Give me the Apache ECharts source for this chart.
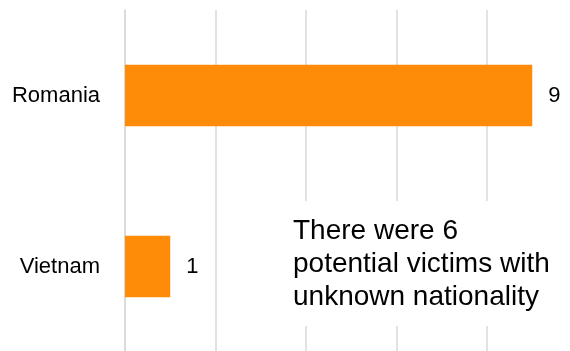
<!DOCTYPE html>
<html>
<head>
<meta charset="utf-8">
<script src="https://cdn.jsdelivr.net/npm/echarts@6/dist/echarts.min.js"></script>
<style>
  html, body { margin: 0; padding: 0; background: #fff; }
  #chart { width: 570px; height: 351px; }
</style>
</head>
<body>
<div id="chart"></div>
<script>
// Potential victims by nationality
const countries = ['Romania', 'Vietnam'];
const victims = [9, 1];
const xTicks = [0, 2, 4, 6, 8, 10];
const noteLines = ['There were 6', 'potential victims with', 'unknown nationality'];

const chart = echarts.init(document.getElementById('chart'), null, { renderer: 'canvas' });

const font = '"Liberation Sans", Arial, sans-serif';

chart.setOption({
  animation: false,
  backgroundColor: '#ffffff',
  grid: {
    left: 125, width: 452.5, top: 10, height: 342,
    containLabel: false, outerBoundsMode: 'none'
  },
  xAxis: {
    type: 'value',
    min: xTicks[0],
    max: xTicks[xTicks.length - 1],
    interval: 2,
    axisLine: { show: false },
    axisTick: { show: false },
    axisLabel: { show: false },
    splitLine: { show: true, lineStyle: { color: '#d9d9d9', width: 1.5 } }
  },
  yAxis: {
    type: 'category',
    data: countries,
    inverse: true,
    axisLine: { show: true, lineStyle: { color: '#d9d9d9', width: 1.5 } },
    axisTick: { show: false },
    axisLabel: { color: '#000', fontFamily: font, fontSize: 22, margin: 25 }
  },
  series: [{
    type: 'bar',
    data: victims,
    barWidth: '36%',
    itemStyle: { color: '#ff8c08' },
    label: {
      show: true,
      position: 'right',
      distance: 16,
      color: '#000',
      fontFamily: font,
      fontSize: 22
    }
  }],
  graphic: [{
    type: 'rect',
    z: 100,
    shape: { x: 285, y: 201, width: 280, height: 125 },
    style: { fill: '#ffffff' }
  }, {
    type: 'text',
    z: 101,
    x: 293,
    y: 215,
    style: {
      text: noteLines.join('\n'),
      fill: '#000',
      font: '28px ' + font,
      lineHeight: 33
    }
  }]
});
</script>
</body>
</html>
